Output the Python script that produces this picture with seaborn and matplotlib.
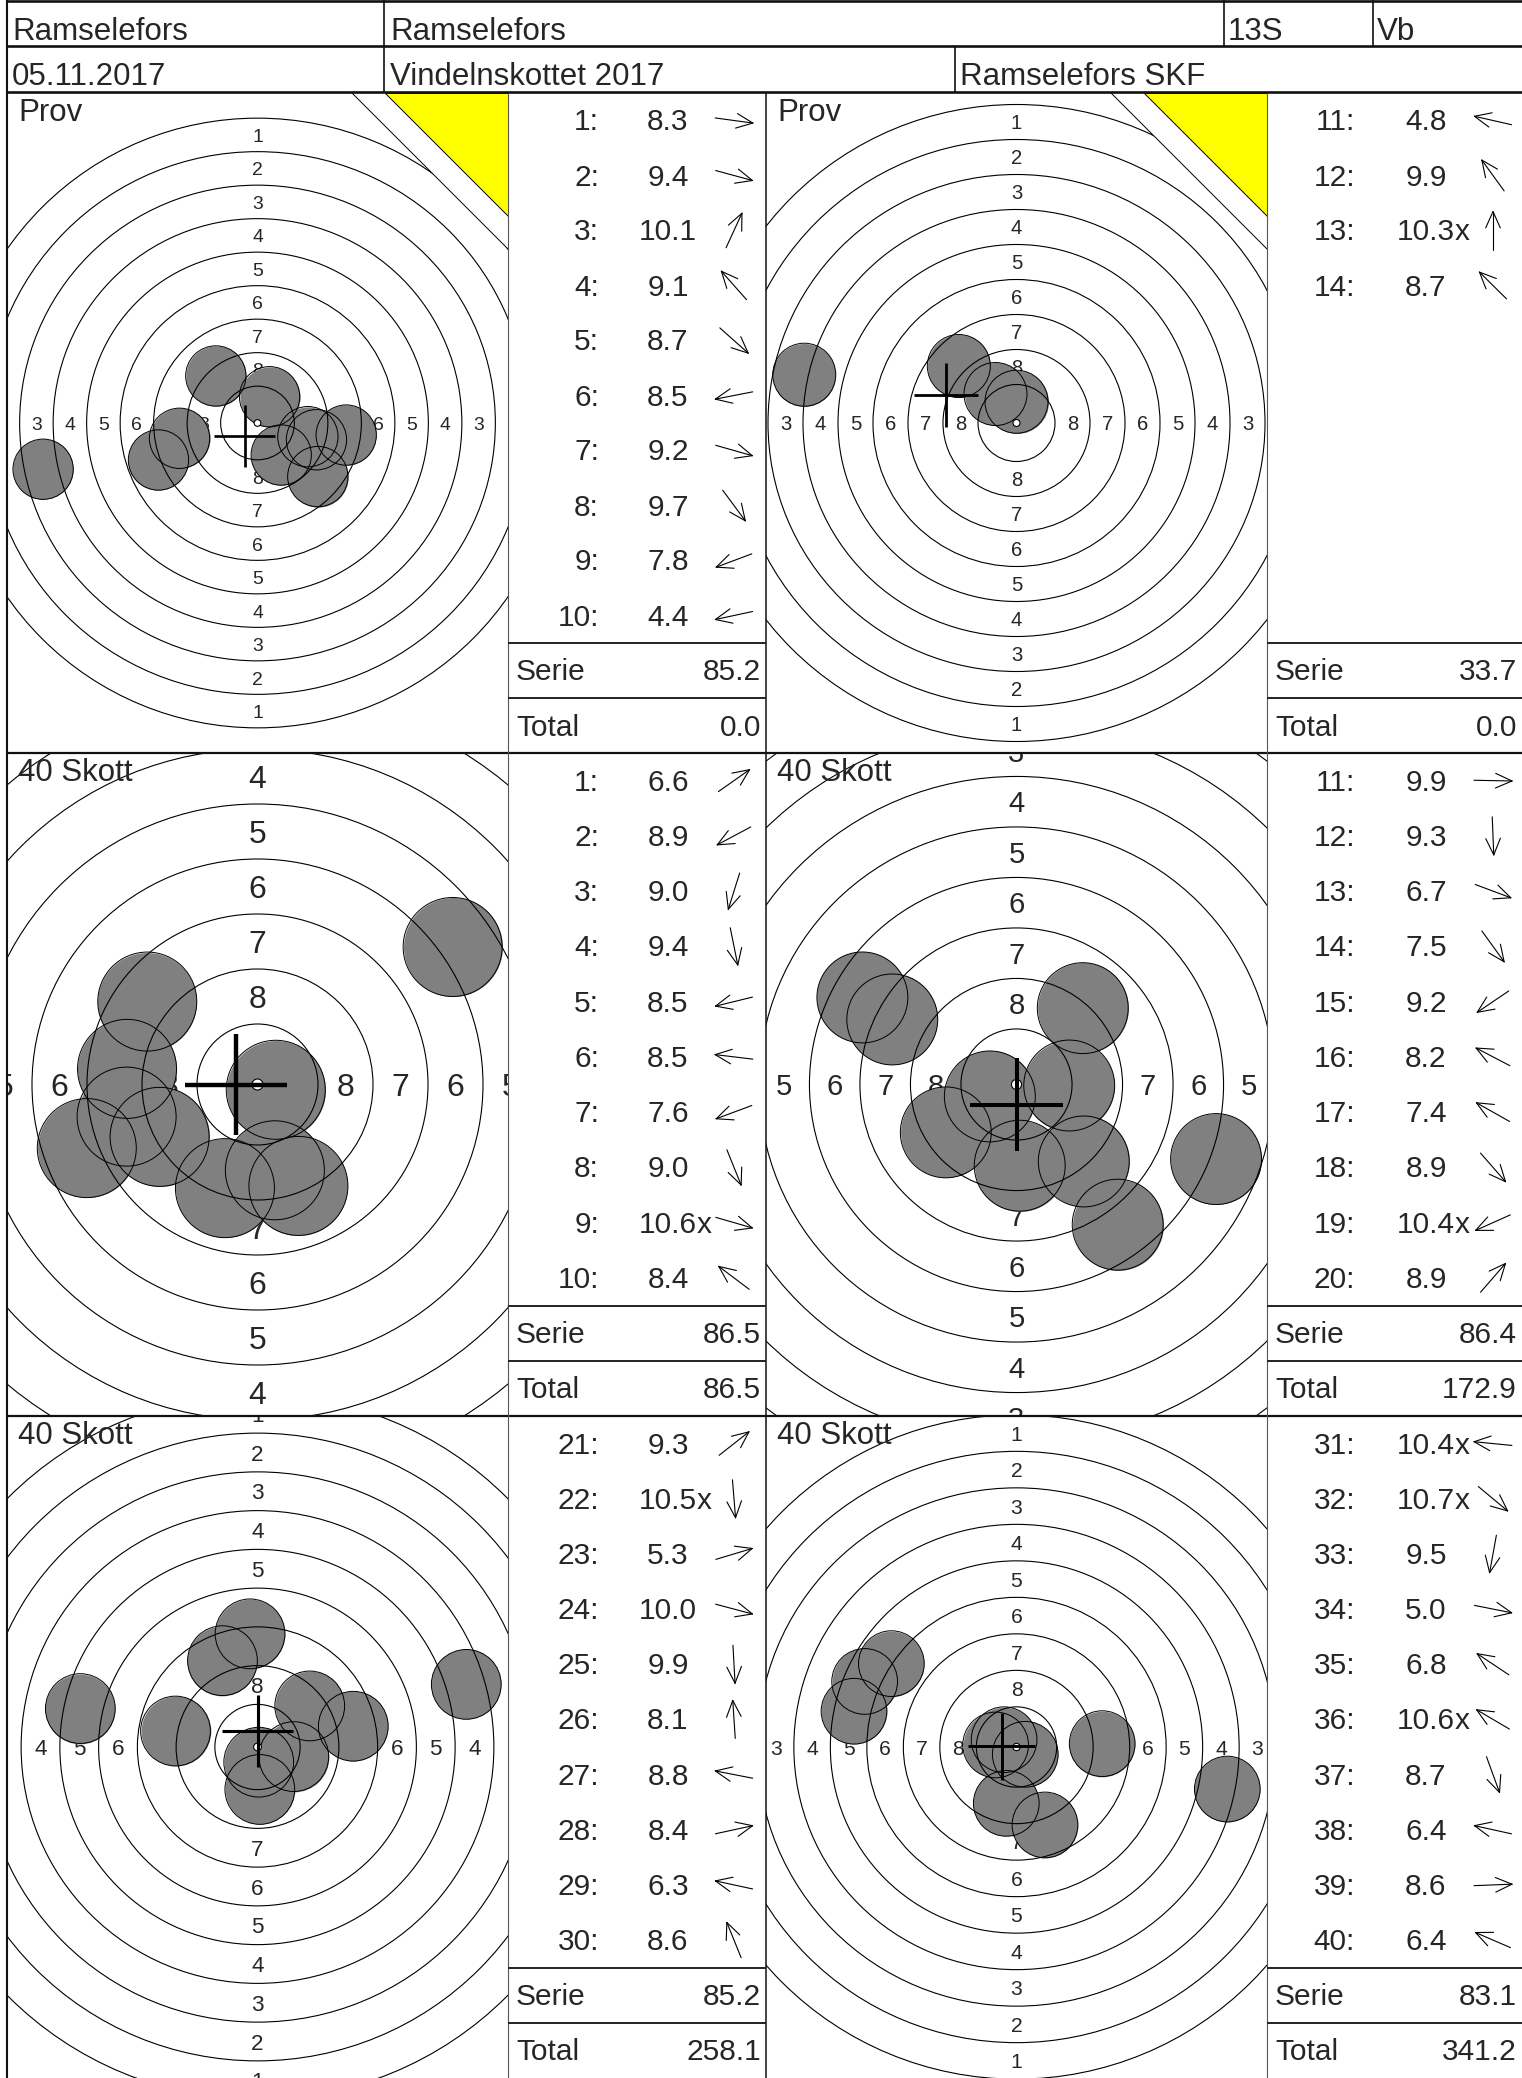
import matplotlib
matplotlib.use("Agg")
import matplotlib.pyplot as plt
import numpy as np
import pandas as pd
import seaborn as sns
from matplotlib.patches import Circle, Polygon

header_top = ["Ramselefors", "Ramselefors", "13S", "Vb"]
header_bottom = ["05.11.2017", "Vindelnskottet 2017", "Ramselefors SKF"]

panel_titles = ["Prov", "Prov", "40 Skott", "40 Skott", "40 Skott", "40 Skott"]
first_shot = [1, 11, 1, 11, 21, 31]
is_match = [False, False, True, True, True, True]

# shot scores, "x" = inner ten
scores_prov1 = ["8.3", "9.4", "10.1", "9.1", "8.7", "8.5", "9.2", "9.7", "7.8", "4.4"]
scores_prov2 = ["4.8", "9.9", "10.3x", "8.7"]
scores_s1 = ["6.6", "8.9", "9.0", "9.4", "8.5", "8.5", "7.6", "9.0", "10.6x", "8.4"]
scores_s2 = ["9.9", "9.3", "6.7", "7.5", "9.2", "8.2", "7.4", "8.9", "10.4x", "8.9"]
scores_s3 = ["9.3", "10.5x", "5.3", "10.0", "9.9", "8.1", "8.8", "8.4", "6.3", "8.6"]
scores_s4 = ["10.4x", "10.7x", "9.5", "5.0", "6.8", "10.6x", "8.7", "6.4", "8.6", "6.4"]

# hit positions in mm from target centre (x right, y up), in shot order
x_prov1 = [6.62, 3.76, 0.90, -3.11, 4.50, -5.82, 4.40, 1.77, -7.39, -16.0]
y_prov1 = [-0.90, -1.02, 1.96, 3.51, -4.00, -1.14, -1.25, -2.39, -2.76, -3.45]
x_prov2 = [-15.16, -1.50, 0.00, -4.12]
y_prov2 = [3.45, 2.07, 1.52, 4.07]
x_s1 = [8.87, -4.45, -1.48, 0.79, -5.95, -5.93, -7.76, 1.86, 0.83, -5.01]
y_s1 = [6.25, -2.38, -4.71, -3.90, -1.46, 0.71, -2.89, -4.61, -0.24, 3.77]
x_s2 = [2.61, 0.16, 9.88, 5.01, -3.50, -6.15, -7.63, 3.33, -1.32, 3.28]
y_s2 = [-0.05, -4.02, -3.69, -6.94, -2.37, 3.22, 4.31, -3.81, -0.59, 3.78]
x_s3 = [3.37, 0.08, 13.47, 2.34, 0.15, -0.48, -5.29, 6.18, -11.43, -2.26]
y_s3 = [2.65, -0.98, 4.04, -0.62, -2.74, 7.30, 1.03, 1.34, 2.48, 5.57]
x_s4 = [-1.43, 0.60, -0.70, 14.44, -8.57, -0.85, 1.95, -11.13, 5.87, -10.40]
y_s4 = [0.14, -0.50, -3.86, -2.88, 5.71, 0.50, -5.34, 2.45, 0.23, 4.49]

# mean point of impact crosses (mm)
mpi_x = [-0.97, -5.02, -0.98, 0.00, 0.00, -1.00]
mpi_y = [-0.97, 2.00, 0.00, -1.00, 1.03, 0.05]

all_scores = [scores_prov1, scores_prov2, scores_s1, scores_s2, scores_s3, scores_s4]
all_x = [x_prov1, x_prov2, x_s1, x_s2, x_s3, x_s4]
all_y = [y_prov1, y_prov2, y_s1, y_s2, y_s3, y_s4]

# ---------------- layout (pixels) ----------------
W, H, DPI = 1522, 2078, 100
ROWS = [(93, 753), (753, 1416), (1416, 2078)]
TARGET_COLS = [(7, 508), (766, 1267)]
TABLE_COLS = [(508, 766), (1267, 1522)]
ZOOM = [13.4, 14.0, 22.0, 20.2, 15.5, 14.6]   # px per mm for each target
PELLET_R = 2.25
FS = 21.5
label_dx = [91, 88]
num_dx = [160, 159]
arrow_dx = [226, 226]


def px2pt(v):
    return v * 72.0 / DPI


sns.set_style("white")
plt.rcParams["font.family"] = ["Liberation Sans", "DejaVu Sans"]

fig = plt.figure(figsize=(W / DPI, H / DPI), dpi=DPI)

# ---------------- targets ----------------
for p in range(6):
    r, c = divmod(p, 2)
    y0, y1 = ROWS[r]
    x0, x1 = TARGET_COLS[c]
    s = ZOOM[p]
    ax = fig.add_axes([x0 / W, 1 - y1 / H, (x1 - x0) / W, (y1 - y0) / H])

    # ring numbers
    em = 1.45
    for k in range(1, 9):
        rr = 0.25 + (9.5 - k) * 2.5
        for lx, ly in [(0, rr), (0, -rr), (-rr, 0), (rr, 0)]:
            ax.text(lx, ly - 0.358 * em, str(k), ha="center", va="baseline",
                    fontsize=px2pt(em * s), clip_on=True, zorder=1)

    df = pd.DataFrame({"x": all_x[p], "y": all_y[p]})
    size = px2pt(2 * PELLET_R * s) ** 2
    sns.scatterplot(data=df, x="x", y="y", s=size, color="#808080",
                    linewidth=0, ax=ax, legend=False, zorder=2)

    for k in range(1, 10):
        ax.add_patch(Circle((0, 0), 0.25 + (10 - k) * 2.5, fill=False,
                            lw=0.8, ec="black", zorder=3))
    ax.scatter(df["x"], df["y"], s=size, facecolors="none", edgecolors="black",
               linewidths=0.7, zorder=4)
    ax.add_patch(Circle((0, 0), 0.25, fc="white", ec="black", lw=0.8, zorder=5))

    cl = 2.3
    clw = px2pt(0.2 * s)
    ax.plot([mpi_x[p] - cl, mpi_x[p] + cl], [mpi_y[p], mpi_y[p]], color="black",
            lw=clw, solid_capstyle="butt", zorder=6)
    ax.plot([mpi_x[p], mpi_x[p]], [mpi_y[p] - cl, mpi_y[p] + cl], color="black",
            lw=clw, solid_capstyle="butt", zorder=6)

    hw, hh = (x1 - x0) / 2 / s, (y1 - y0) / 2 / s
    ax.set_xlim(-hw, hw)
    ax.set_ylim(-hh, hh)
    ax.set_axis_off()

# ---------------- card overlay (pixel coords) ----------------
bg = fig.add_axes([0, 0, 1, 1], zorder=10)
bg.set_xlim(0, W)
bg.set_ylim(H, 0)
bg.set_axis_off()


def hline(y, xa, xb, lw=1.5, color="#111111"):
    bg.plot([xa, xb], [y, y], color=color, lw=lw, solid_capstyle="butt", zorder=5)


def vline(x, ya, yb, lw=1.0, color="#111111"):
    bg.plot([x, x], [ya, yb], color=color, lw=lw, solid_capstyle="butt", zorder=5)


# header
hline(1, 7, W, lw=1.9)
hline(46, 7, W, lw=1.9)
hline(92, 7, W, lw=1.9)
for x in [384, 1224, 1373]:
    vline(x, 0, 46, lw=1.2)
for x in [384, 955]:
    vline(x, 46, 92, lw=1.2)
vline(7, 0, H, lw=1.5)
for txt, x in zip(header_top, [12, 390, 1228, 1377]):
    bg.text(x, 40, txt, fontsize=22.5, ha="left", va="baseline")
for txt, x in zip(header_bottom, [12, 390, 960]):
    bg.text(x, 85, txt, fontsize=22.5, ha="left", va="baseline")

# panel frames
for y in [753, 1416]:
    hline(y, 7, W, lw=1.6)
vline(508, 93, H, lw=0.8, color="#555555")
vline(766, 93, H, lw=1.1)
vline(1267, 93, H, lw=0.8, color="#555555")

# sighting corners
for c in range(2):
    x1 = TARGET_COLS[c][1]
    y0 = ROWS[0][0]
    bg.add_patch(Polygon([(x1 - 156, y0), (x1, y0), (x1, y0 + 156)], closed=True,
                         fc="white", ec="none", zorder=1))
    bg.plot([x1 - 156, x1], [y0, y0 + 156], color="black", lw=0.7, zorder=2)
    bg.add_patch(Polygon([(x1 - 123, y0), (x1, y0), (x1, y0 + 123)], closed=True,
                         fc="#ffff00", ec="black", lw=0.7, zorder=2))


def draw_arrow(xc, yc, ang, half=19, head=18, spread=np.radians(24)):
    ux, uy = np.cos(ang), -np.sin(ang)
    tx, ty = xc + half * ux, yc + half * uy
    bg.plot([xc - half * ux, tx], [yc - half * uy, ty], color="black", lw=0.8, zorder=4)
    for sgn in (1, -1):
        a = ang + np.pi + sgn * spread
        bg.plot([tx, tx + head * np.cos(a)], [ty, ty - head * np.sin(a)],
                color="black", lw=0.8, zorder=4)


em_px = FS * DPI / 72.0
running_total = 0.0
for p in range(6):
    r, c = divmod(p, 2)
    y0, y1 = ROWS[r]
    tl, tr = TABLE_COLS[c]
    tx0 = TARGET_COLS[c][0]
    rh = (y1 - y0) / 12.0

    bg.text(tx0 + 11, y0 + 28, panel_titles[p], fontsize=22.5, ha="left", va="baseline")

    vals = []
    for i, sc in enumerate(all_scores[p]):
        yb = y0 + (i + 0.5) * rh + 10
        inner = sc.endswith("x")
        num = sc.rstrip("x")
        vals.append(float(num))
        bg.text(tl + label_dx[c], yb, f"{first_shot[p] + i}:", fontsize=FS,
                ha="right", va="baseline")
        bg.text(tl + num_dx[c], yb, num, fontsize=FS, ha="center", va="baseline")
        if inner:
            nd = sum(ch.isdigit() for ch in num)
            wnum = em_px * (0.556 * nd + 0.278)
            bg.text(tl + num_dx[c] + wnum / 2, yb, "x", fontsize=FS,
                    ha="left", va="baseline")
        ang = np.arctan2(all_y[p][i], all_x[p][i])
        draw_arrow(tl + arrow_dx[c], y0 + (i + 0.5) * rh, ang)

    serie = sum(vals)
    if is_match[p]:
        running_total += serie
        total = running_total
    else:
        total = 0.0

    ys = y0 + 10 * rh
    yt = y0 + 11 * rh
    hline(ys, tl, tr, lw=1.4, color="#222222")
    hline(yt, tl, tr, lw=1.4, color="#222222")
    bg.text(tl + 8, ys + rh / 2 + 10, "Serie", fontsize=FS, ha="left", va="baseline")
    bg.text(tr - 5, ys + rh / 2 + 10, f"{serie:.1f}", fontsize=FS, ha="right", va="baseline")
    bg.text(tl + 8, yt + rh / 2 + 10, "Total", fontsize=FS, ha="left", va="baseline")
    bg.text(tr - 5, yt + rh / 2 + 10, f"{total:.1f}", fontsize=FS, ha="right", va="baseline")

fig.savefig("out.png", dpi=DPI, facecolor="white")
